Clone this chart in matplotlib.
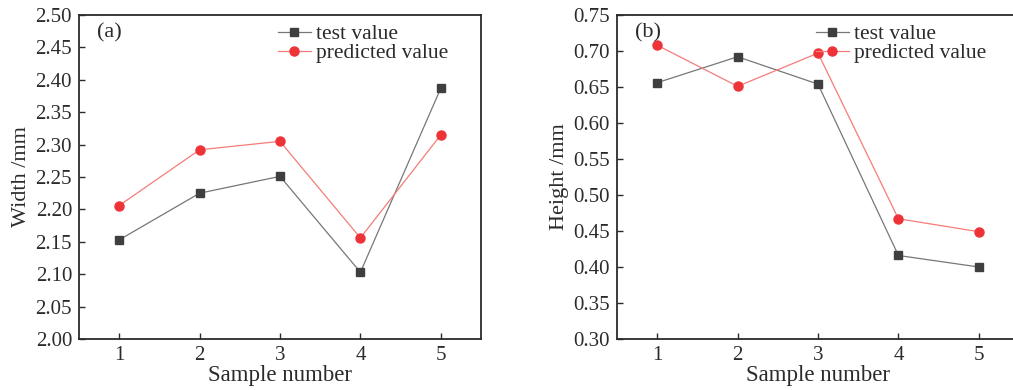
import numpy as np
import matplotlib
matplotlib.use("Agg")
import matplotlib.pyplot as plt

plt.rcParams["font.family"] = ["Liberation Serif", "DejaVu Serif"]

samples = [1, 2, 3, 4, 5]

# (a) width
width_test = [2.153, 2.225, 2.251, 2.103, 2.387]
width_pred = [2.206, 2.292, 2.305, 2.156, 2.315]

# (b) height
height_test = [0.656, 0.692, 0.654, 0.416, 0.400]
height_pred = [0.708, 0.651, 0.697, 0.467, 0.449]

width_ticks = [2.00, 2.05, 2.10, 2.15, 2.20, 2.25, 2.30, 2.35, 2.40, 2.45, 2.50]
height_ticks = [0.30, 0.35, 0.40, 0.45, 0.50, 0.55, 0.60, 0.65, 0.70, 0.75]

test_c = "#3f3f3f"
pred_c = "#ee3338"

fig = plt.figure(figsize=(10.13, 3.9), dpi=100)
ax1 = fig.add_axes([79 / 1013, 51 / 390, 402 / 1013, 324 / 390])
ax2 = fig.add_axes([617 / 1013, 51 / 390, 402 / 1013, 324 / 390])

panels = [
    (ax1, width_test, width_pred, width_ticks, "Width /mm", "(a)"),
    (ax2, height_test, height_pred, height_ticks, "Height /mm", "(b)"),
]

for ax, test, pred, ticks, ylab, tag in panels:
    ax.plot(samples, test, color="#777777", lw=0.9, marker="s", ms=6,
            mfc=test_c, mec=test_c, label="test value")
    ax.plot(samples, pred, color="#f47c78", lw=0.9, marker="o", ms=6.5,
            mfc=pred_c, mec=pred_c, label="predicted value")
    ax.set_xlim(0.5, 5.5)
    ax.set_ylim(ticks[0], ticks[-1])
    ax.set_xticks(samples)
    ax.set_yticks(ticks)
    ax.set_yticklabels([f"{t:.2f}" for t in ticks])
    ax.tick_params(direction="in", length=4, width=1, labelsize=15,
                   colors="#2b2b2b", labelcolor="#2b2b2b", pad=5)
    for s in ax.spines.values():
        s.set_linewidth(1.3)
        s.set_color("#2b2b2b")
    ax.set_xlabel("Sample number", fontsize=16.5, color="#2b2b2b", labelpad=0)
    ax.set_ylabel(ylab, fontsize=16, color="#2b2b2b", labelpad=3)
    ax.text(0.045, 0.975, tag, transform=ax.transAxes, fontsize=16,
            color="#2b2b2b", va="top", ha="left")
    ax.legend(loc="upper left", bbox_to_anchor=(0.462, 1.012), frameon=False,
              fontsize=15.5, handlelength=1.55, handletextpad=0.25,
              labelspacing=-0.05, labelcolor="#2b2b2b", borderaxespad=0.2)

fig.savefig("out.png", dpi=100)
